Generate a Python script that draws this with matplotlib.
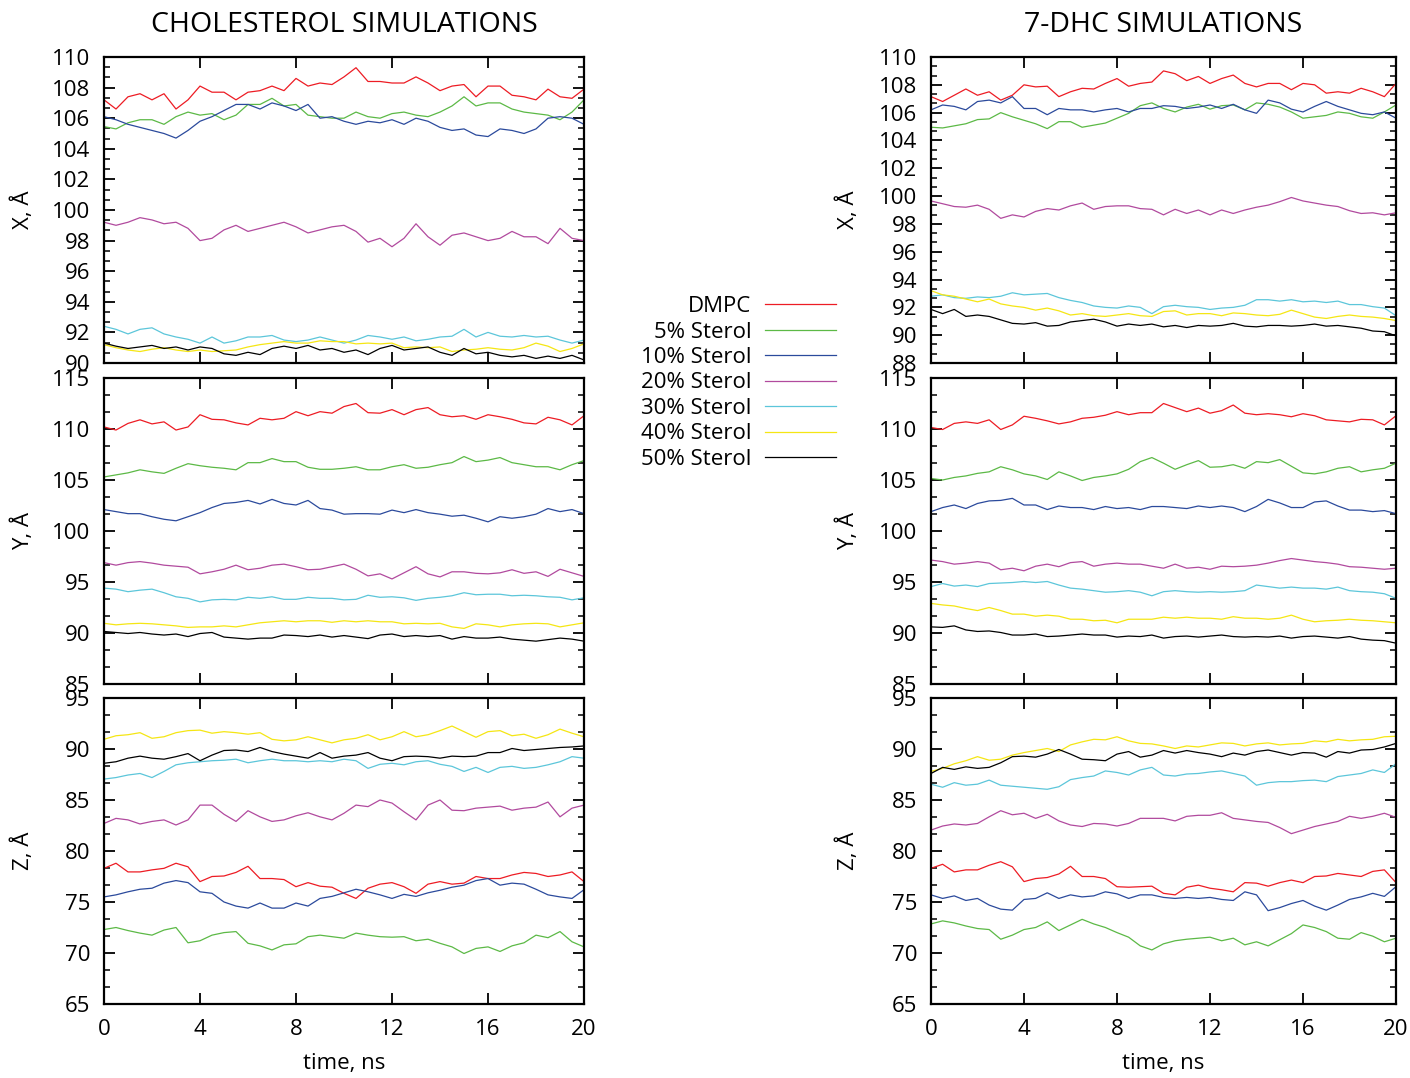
import numpy as np
import matplotlib.pyplot as plt
from matplotlib.ticker import MultipleLocator, AutoMinorLocator

plt.rcParams['font.family'] = ['Open Sans', 'DejaVu Sans']

labels = ['DMPC', '5% Sterol', '10% Sterol', '20% Sterol', '30% Sterol', '40% Sterol', '50% Sterol']
colors = ['#ed1c24', '#5cb946', '#2b4a9c', '#b14a9e', '#5cc6da', '#f5e614', '#000000']

# values read every 0.5 ns, 0..20 ns
# cholesterol, X
chol_x_dmpc = [107.2, 106.6, 107.4, 107.6, 107.2, 107.6, 106.6, 107.2, 108.1, 107.7, 107.7, 107.2, 107.7, 107.8, 108.1, 107.8, 108.6, 108.1, 108.3, 108.2, 108.7, 109.3, 108.4, 108.4, 108.3, 108.3, 108.7, 108.3, 107.8, 108.1, 108.2, 107.4, 108.1, 108.1, 107.5, 107.4, 107.2, 107.9, 107.4, 107.3, 107.9]
chol_x_s5 = [105.45, 105.3, 105.7, 105.9, 105.9, 105.6, 106.1, 106.4, 106.2, 106.3, 105.9, 106.2, 106.9, 106.9, 107.3, 106.8, 106.9, 106.2, 106.1, 106.0, 106.0, 106.4, 106.1, 106.0, 106.3, 106.4, 106.2, 106.1, 106.4, 106.8, 107.4, 106.8, 107.0, 107.0, 106.6, 106.4, 106.3, 106.2, 105.9, 106.4, 107.2]
chol_x_s10 = [106.1, 105.9, 105.6, 105.4, 105.2, 105.0, 104.7, 105.2, 105.8, 106.1, 106.5, 106.9, 106.9, 106.6, 107.0, 106.8, 106.5, 106.9, 106.0, 106.1, 105.8, 105.6, 105.8, 105.7, 105.9, 105.6, 106.0, 105.8, 105.4, 105.2, 105.3, 104.9, 104.8, 105.3, 105.2, 105.0, 105.3, 106.0, 106.1, 106.0, 105.6]
chol_x_s20 = [99.2, 99.0, 99.2, 99.5, 99.35, 99.1, 99.2, 98.8, 98.0, 98.15, 98.7, 99.0, 98.6, 98.8, 99.0, 99.2, 98.9, 98.5, 98.7, 98.9, 99.0, 98.6, 97.9, 98.15, 97.6, 98.15, 99.1, 98.25, 97.7, 98.35, 98.5, 98.25, 98.0, 98.15, 98.6, 98.25, 98.25, 97.8, 98.8, 98.15, 98.0]
chol_x_s30 = [92.4, 92.2, 91.9, 92.2, 92.3, 91.9, 91.7, 91.55, 91.3, 91.7, 91.3, 91.45, 91.7, 91.7, 91.8, 91.5, 91.4, 91.5, 91.7, 91.5, 91.3, 91.5, 91.8, 91.7, 91.55, 91.7, 91.45, 91.55, 91.7, 91.75, 92.2, 91.7, 92.0, 91.75, 91.7, 91.8, 91.7, 91.75, 91.5, 91.3, 91.5]
chol_x_s40 = [91.2, 91.0, 90.85, 90.75, 90.9, 91.0, 90.85, 90.75, 90.85, 90.75, 90.8, 90.85, 91.05, 91.2, 91.3, 91.4, 91.3, 91.3, 91.45, 91.4, 91.4, 91.25, 91.3, 91.25, 91.3, 91.0, 91.05, 91.0, 91.05, 90.75, 90.85, 90.9, 91.0, 90.9, 90.85, 91.0, 91.3, 91.1, 90.75, 90.95, 91.25]
chol_x_s50 = [91.3, 91.1, 90.95, 91.05, 91.15, 90.95, 91.05, 90.85, 91.05, 90.95, 90.6, 90.5, 90.7, 90.55, 90.95, 91.1, 90.95, 91.15, 90.85, 90.95, 90.7, 90.85, 90.55, 90.95, 91.15, 90.85, 90.95, 91.05, 90.7, 90.5, 90.95, 90.6, 90.7, 90.5, 90.4, 90.5, 90.3, 90.45, 90.3, 90.5, 90.2]

# cholesterol, Y
chol_y_dmpc = [110.2, 109.9, 110.55, 110.9, 110.5, 110.7, 109.9, 110.2, 111.4, 110.95, 110.9, 110.6, 110.4, 111.05, 110.9, 111.05, 111.7, 111.3, 111.7, 111.55, 112.2, 112.5, 111.6, 111.55, 111.9, 111.4, 111.9, 112.1, 111.4, 111.2, 111.3, 110.95, 111.4, 111.2, 110.95, 110.6, 110.5, 111.15, 110.9, 110.4, 111.3]
chol_y_s5 = [105.3, 105.5, 105.7, 106.0, 105.8, 105.65, 106.15, 106.6, 106.4, 106.25, 106.15, 106.0, 106.7, 106.7, 107.1, 106.8, 106.8, 106.25, 106.05, 106.05, 106.15, 106.3, 106.0, 106.0, 106.3, 106.5, 106.15, 106.25, 106.5, 106.7, 107.3, 106.8, 106.95, 107.2, 106.7, 106.5, 106.3, 106.3, 106.0, 106.5, 106.9]
chol_y_s10 = [102.1, 101.9, 101.7, 101.7, 101.4, 101.15, 101.0, 101.4, 101.8, 102.3, 102.7, 102.8, 103.0, 102.65, 103.1, 102.7, 102.55, 103.0, 102.2, 102.05, 101.65, 101.7, 101.7, 101.65, 102.05, 101.8, 102.1, 101.8, 101.65, 101.45, 101.55, 101.25, 100.9, 101.4, 101.25, 101.4, 101.65, 102.2, 101.9, 102.1, 101.7]
chol_y_s20 = [96.9, 96.65, 96.9, 97.0, 96.85, 96.65, 96.55, 96.45, 95.8, 96.0, 96.25, 96.65, 96.2, 96.35, 96.65, 96.75, 96.5, 96.2, 96.25, 96.5, 96.75, 96.25, 95.6, 95.8, 95.3, 95.9, 96.5, 95.8, 95.5, 96.0, 96.0, 95.85, 95.8, 95.9, 96.2, 95.85, 96.0, 95.55, 96.25, 95.9, 95.55]
chol_y_s30 = [94.4, 94.3, 94.05, 94.2, 94.3, 93.95, 93.55, 93.4, 93.05, 93.25, 93.3, 93.25, 93.5, 93.4, 93.55, 93.3, 93.3, 93.5, 93.4, 93.4, 93.25, 93.3, 93.7, 93.5, 93.55, 93.45, 93.2, 93.4, 93.5, 93.65, 93.95, 93.75, 93.8, 93.8, 93.65, 93.7, 93.65, 93.55, 93.5, 93.25, 93.45]
chol_y_s40 = [90.95, 90.8, 90.9, 90.95, 90.9, 90.8, 90.7, 90.55, 90.6, 90.6, 90.7, 90.6, 90.8, 91.0, 91.1, 91.2, 91.1, 91.2, 91.2, 91.05, 91.2, 91.1, 91.2, 91.1, 91.1, 90.9, 90.95, 90.9, 90.95, 90.6, 90.45, 90.9, 90.8, 90.6, 90.8, 90.9, 90.95, 90.9, 90.6, 90.8, 91.0]
chol_y_s50 = [90.15, 90.05, 89.95, 90.05, 89.9, 89.8, 89.9, 89.65, 89.95, 90.05, 89.6, 89.5, 89.4, 89.5, 89.5, 89.8, 89.75, 89.65, 89.8, 89.6, 89.75, 89.6, 89.45, 89.8, 89.9, 89.65, 89.75, 89.65, 89.75, 89.4, 89.65, 89.5, 89.5, 89.6, 89.4, 89.3, 89.2, 89.35, 89.5, 89.4, 89.2]

# cholesterol, Z
chol_z_dmpc = [78.3, 78.8, 77.95, 77.95, 78.15, 78.3, 78.8, 78.45, 77.0, 77.5, 77.55, 77.9, 78.5, 77.3, 77.3, 77.2, 76.5, 76.9, 76.55, 76.45, 75.85, 75.35, 76.35, 76.75, 76.9, 76.5, 75.85, 76.75, 77.0, 76.75, 76.85, 77.5, 77.3, 77.3, 77.65, 77.9, 77.8, 77.5, 77.65, 77.95, 77.0]
chol_z_s5 = [72.3, 72.5, 72.2, 71.95, 71.75, 72.25, 72.5, 71.0, 71.2, 71.75, 72.0, 72.1, 70.95, 70.7, 70.3, 70.8, 70.9, 71.6, 71.75, 71.6, 71.45, 71.95, 71.75, 71.6, 71.55, 71.6, 71.2, 71.35, 70.95, 70.6, 69.95, 70.45, 70.6, 70.15, 70.7, 71.0, 71.75, 71.5, 72.1, 71.1, 70.6]
chol_z_s10 = [75.5, 75.7, 76.0, 76.25, 76.35, 76.85, 77.1, 76.9, 76.0, 75.85, 75.0, 74.6, 74.4, 74.9, 74.4, 74.4, 74.9, 74.6, 75.35, 75.55, 75.9, 76.25, 76.0, 75.7, 75.35, 75.75, 75.55, 75.9, 76.15, 76.45, 76.65, 77.1, 77.3, 76.65, 76.85, 76.75, 76.25, 75.7, 75.5, 75.35, 76.2]
chol_z_s20 = [82.7, 83.2, 83.05, 82.65, 82.9, 83.05, 82.55, 83.05, 84.5, 84.5, 83.6, 82.9, 83.95, 83.35, 82.9, 83.05, 83.45, 83.75, 83.35, 83.05, 83.7, 84.5, 84.35, 85.0, 84.7, 83.85, 83.05, 84.5, 85.0, 84.0, 83.95, 84.2, 84.3, 84.4, 84.0, 84.2, 84.3, 84.8, 83.35, 84.2, 84.5]
chol_z_s30 = [87.05, 87.2, 87.45, 87.6, 87.2, 87.8, 88.45, 88.65, 88.75, 88.85, 88.9, 89.0, 88.65, 88.85, 89.0, 88.85, 88.85, 88.75, 88.85, 88.75, 89.0, 88.85, 88.1, 88.5, 88.6, 88.45, 88.75, 88.85, 88.5, 88.3, 87.8, 88.2, 87.7, 88.2, 88.3, 88.1, 88.2, 88.45, 88.75, 89.25, 89.1]
chol_z_s40 = [90.95, 91.3, 91.4, 91.6, 91.05, 91.2, 91.6, 91.8, 91.85, 91.55, 91.7, 91.6, 91.45, 91.6, 90.95, 90.8, 90.9, 91.2, 90.9, 90.6, 90.9, 91.05, 91.4, 90.9, 91.2, 91.7, 91.2, 91.4, 91.8, 92.25, 91.7, 91.15, 91.7, 91.8, 91.3, 91.45, 91.05, 91.4, 91.95, 91.55, 91.2]
chol_z_s50 = [88.6, 88.75, 89.1, 89.3, 89.1, 89.0, 89.25, 89.55, 88.85, 89.4, 89.85, 89.9, 89.75, 90.15, 89.75, 89.5, 89.3, 89.1, 89.65, 89.1, 89.3, 89.4, 89.65, 89.1, 88.85, 89.25, 89.3, 89.25, 89.1, 89.3, 89.25, 89.3, 89.65, 89.65, 90.05, 89.85, 89.95, 90.05, 90.15, 90.2, 90.3]

# 7-DHC, X
dhc_x_dmpc = [107.15, 106.8, 107.25, 107.7, 107.25, 107.5, 106.9, 107.25, 108.0, 107.85, 107.9, 107.15, 107.5, 107.75, 107.7, 108.1, 108.45, 107.9, 108.1, 108.2, 109.0, 108.8, 108.3, 108.6, 108.1, 108.45, 108.7, 108.1, 107.85, 108.1, 108.1, 107.65, 108.1, 108.0, 107.4, 107.5, 107.4, 107.75, 107.5, 107.15, 108.1]
dhc_x_s5 = [104.95, 104.9, 105.05, 105.2, 105.5, 105.55, 106.0, 105.7, 105.45, 105.2, 104.85, 105.35, 105.35, 104.95, 105.1, 105.25, 105.6, 105.95, 106.5, 106.7, 106.3, 106.05, 106.4, 106.6, 106.25, 106.5, 106.55, 106.2, 106.7, 106.6, 106.4, 106.05, 105.6, 105.7, 105.8, 106.05, 105.95, 105.7, 105.6, 106.05, 106.55]
dhc_x_s10 = [106.2, 106.55, 106.45, 106.2, 106.8, 106.9, 106.7, 107.15, 106.3, 106.3, 105.85, 106.3, 106.2, 106.2, 106.05, 106.2, 106.3, 106.05, 106.3, 106.3, 106.5, 106.45, 106.3, 106.4, 106.55, 106.3, 106.6, 106.2, 105.95, 106.9, 106.7, 106.25, 106.05, 106.45, 106.8, 106.45, 106.2, 105.95, 105.85, 106.05, 105.6]
dhc_x_s20 = [99.65, 99.45, 99.25, 99.2, 99.35, 99.05, 98.4, 98.65, 98.5, 98.9, 99.1, 99.0, 99.3, 99.5, 99.05, 99.25, 99.3, 99.3, 99.1, 99.05, 98.65, 99.05, 98.75, 99.0, 98.65, 99.0, 98.75, 99.0, 99.2, 99.35, 99.6, 99.9, 99.65, 99.5, 99.35, 99.25, 98.95, 98.75, 98.8, 98.65, 98.8]
dhc_x_s30 = [92.8, 92.9, 92.7, 92.65, 92.75, 92.7, 92.8, 93.05, 92.9, 92.95, 93.0, 92.7, 92.5, 92.35, 92.1, 92.0, 91.95, 92.1, 92.0, 91.55, 92.05, 92.15, 92.05, 92.0, 91.85, 91.95, 92.0, 92.15, 92.55, 92.55, 92.45, 92.55, 92.4, 92.45, 92.35, 92.45, 92.2, 92.2, 92.05, 91.95, 91.4]
dhc_x_s40 = [93.2, 92.9, 92.8, 92.6, 92.4, 92.6, 92.25, 92.1, 92.0, 91.8, 91.95, 91.75, 91.45, 91.55, 91.4, 91.35, 91.45, 91.55, 91.4, 91.35, 91.7, 91.75, 91.45, 91.55, 91.55, 91.4, 91.6, 91.55, 91.45, 91.4, 91.5, 91.8, 91.55, 91.3, 91.2, 91.35, 91.45, 91.35, 91.3, 91.2, 91.05]
dhc_x_s50 = [91.85, 91.55, 91.85, 91.35, 91.45, 91.35, 91.1, 90.85, 90.8, 90.9, 90.65, 90.7, 90.95, 91.05, 91.15, 90.95, 90.65, 90.8, 90.7, 90.8, 90.6, 90.7, 90.55, 90.7, 90.65, 90.7, 90.85, 90.65, 90.6, 90.7, 90.7, 90.65, 90.7, 90.8, 90.65, 90.7, 90.6, 90.5, 90.3, 90.25, 89.95]

# 7-DHC, Y
dhc_y_dmpc = [110.15, 109.95, 110.55, 110.7, 110.55, 110.9, 109.95, 110.4, 111.25, 111.05, 110.8, 110.5, 110.7, 111.05, 111.15, 111.35, 111.7, 111.4, 111.6, 111.6, 112.5, 112.1, 111.7, 112.05, 111.55, 111.8, 112.35, 111.55, 111.4, 111.5, 111.4, 111.2, 111.5, 111.3, 110.9, 110.8, 110.7, 110.95, 110.9, 110.4, 111.3]
dhc_y_s5 = [105.15, 105.0, 105.25, 105.4, 105.65, 105.8, 106.3, 106.0, 105.6, 105.4, 105.05, 105.8, 105.4, 104.95, 105.25, 105.4, 105.6, 106.05, 106.8, 107.2, 106.65, 106.05, 106.5, 106.9, 106.25, 106.3, 106.5, 106.15, 106.8, 106.7, 107.0, 106.35, 105.7, 105.6, 105.8, 106.15, 106.3, 105.8, 106.0, 106.15, 106.65]
dhc_y_s10 = [101.9, 102.3, 102.55, 102.2, 102.7, 102.95, 103.0, 103.2, 102.55, 102.55, 102.1, 102.45, 102.3, 102.3, 102.1, 102.4, 102.2, 102.3, 102.1, 102.4, 102.4, 102.3, 102.2, 102.45, 102.3, 102.45, 102.3, 101.9, 102.4, 103.1, 102.75, 102.3, 102.3, 102.85, 102.95, 102.45, 102.05, 102.05, 101.9, 102.0, 101.7]
dhc_y_s20 = [97.15, 97.0, 96.75, 96.85, 97.0, 96.85, 96.2, 96.35, 96.1, 96.55, 96.75, 96.5, 96.9, 97.0, 96.55, 96.75, 96.85, 96.75, 96.75, 96.55, 96.35, 96.75, 96.35, 96.45, 96.25, 96.55, 96.5, 96.55, 96.65, 96.85, 97.1, 97.3, 97.15, 97.0, 96.9, 96.75, 96.5, 96.45, 96.35, 96.25, 96.35]
dhc_y_s30 = [94.55, 94.85, 94.6, 94.7, 94.55, 94.85, 94.9, 94.95, 95.05, 94.95, 95.05, 94.7, 94.4, 94.3, 94.15, 94.0, 94.05, 94.15, 94.0, 93.65, 94.05, 94.15, 94.05, 94.0, 94.05, 94.0, 94.05, 94.15, 94.7, 94.55, 94.4, 94.5, 94.4, 94.4, 94.3, 94.5, 94.15, 94.05, 94.0, 93.85, 93.4]
dhc_y_s40 = [92.9, 92.75, 92.65, 92.4, 92.2, 92.5, 92.2, 91.85, 91.85, 91.65, 91.75, 91.65, 91.35, 91.35, 91.2, 91.25, 91.0, 91.35, 91.35, 91.35, 91.55, 91.45, 91.55, 91.45, 91.45, 91.35, 91.6, 91.45, 91.45, 91.35, 91.45, 91.75, 91.35, 91.1, 91.2, 91.25, 91.35, 91.25, 91.2, 91.1, 91.0]
dhc_y_s50 = [90.6, 90.55, 90.7, 90.3, 90.15, 90.2, 90.05, 89.8, 89.8, 89.9, 89.65, 89.7, 89.8, 89.9, 89.8, 89.8, 89.6, 89.7, 89.65, 89.8, 89.5, 89.65, 89.7, 89.6, 89.7, 89.8, 89.65, 89.6, 89.65, 89.6, 89.7, 89.5, 89.65, 89.7, 89.6, 89.5, 89.65, 89.4, 89.3, 89.25, 89.0]

# 7-DHC, Z
dhc_z_dmpc = [78.3, 78.7, 77.95, 78.15, 78.15, 78.6, 78.95, 78.45, 77.0, 77.3, 77.4, 77.75, 78.5, 77.5, 77.5, 77.3, 76.5, 76.45, 76.5, 76.55, 75.85, 75.7, 76.45, 76.65, 76.35, 76.2, 76.0, 76.9, 76.85, 76.55, 76.9, 77.15, 76.9, 77.5, 77.55, 77.8, 77.65, 77.5, 78.0, 78.15, 76.9]
dhc_z_s5 = [72.85, 73.15, 72.95, 72.65, 72.4, 72.3, 71.35, 71.75, 72.3, 72.5, 73.05, 72.2, 72.75, 73.3, 72.85, 72.5, 72.0, 71.55, 70.7, 70.3, 70.9, 71.2, 71.35, 71.45, 71.55, 71.2, 71.45, 70.8, 71.1, 70.7, 71.3, 71.9, 72.75, 72.5, 72.1, 71.45, 71.35, 72.0, 71.65, 71.1, 71.45]
dhc_z_s10 = [75.7, 75.35, 75.6, 75.15, 75.35, 74.7, 74.3, 74.2, 75.25, 75.35, 75.9, 75.35, 75.7, 75.5, 75.6, 76.0, 75.8, 75.35, 75.7, 75.7, 75.45, 75.35, 75.45, 75.35, 75.45, 75.25, 75.15, 76.0, 75.7, 74.15, 74.45, 74.85, 75.15, 74.6, 74.2, 74.7, 75.25, 75.5, 75.85, 75.55, 76.5]
dhc_z_s20 = [82.05, 82.45, 82.65, 82.55, 82.7, 83.35, 83.95, 83.55, 83.7, 83.2, 83.6, 82.95, 82.55, 82.4, 82.7, 82.65, 82.45, 82.7, 83.2, 83.2, 83.2, 82.95, 83.4, 83.5, 83.5, 83.75, 83.2, 83.05, 82.9, 82.8, 82.3, 81.7, 82.05, 82.4, 82.65, 82.9, 83.4, 83.2, 83.4, 83.7, 83.3]
dhc_z_s30 = [86.55, 86.25, 86.7, 86.45, 86.55, 86.95, 86.45, 86.35, 86.25, 86.15, 86.05, 86.3, 87.0, 87.2, 87.35, 87.85, 87.7, 87.45, 87.95, 88.2, 87.45, 87.35, 87.55, 87.6, 87.75, 87.85, 87.6, 87.35, 86.45, 86.7, 86.8, 86.8, 86.9, 86.95, 86.8, 87.3, 87.45, 87.6, 87.95, 87.7, 88.55]
dhc_z_s40 = [87.8, 88.1, 88.55, 88.85, 89.25, 88.9, 89.0, 89.4, 89.65, 89.85, 90.05, 89.75, 90.4, 90.7, 90.95, 90.9, 91.2, 90.8, 90.55, 90.5, 90.3, 90.05, 90.3, 90.2, 90.4, 90.6, 90.55, 90.3, 90.5, 90.6, 90.4, 90.5, 90.55, 90.8, 90.7, 90.95, 90.8, 90.9, 90.95, 91.2, 91.25]
dhc_z_s50 = [87.6, 88.2, 88.0, 88.25, 88.1, 88.2, 88.65, 89.25, 89.3, 89.2, 89.5, 89.95, 89.5, 89.0, 88.95, 88.85, 89.5, 89.75, 89.2, 89.4, 89.85, 89.6, 89.85, 89.65, 89.5, 89.25, 89.6, 89.4, 89.75, 89.9, 89.65, 89.4, 89.65, 89.6, 89.2, 89.75, 89.6, 89.9, 89.95, 90.2, 90.55]

chol_x = [chol_x_dmpc, chol_x_s5, chol_x_s10, chol_x_s20, chol_x_s30, chol_x_s40, chol_x_s50]
chol_y = [chol_y_dmpc, chol_y_s5, chol_y_s10, chol_y_s20, chol_y_s30, chol_y_s40, chol_y_s50]
chol_z = [chol_z_dmpc, chol_z_s5, chol_z_s10, chol_z_s20, chol_z_s30, chol_z_s40, chol_z_s50]
dhc_x = [dhc_x_dmpc, dhc_x_s5, dhc_x_s10, dhc_x_s20, dhc_x_s30, dhc_x_s40, dhc_x_s50]
dhc_y = [dhc_y_dmpc, dhc_y_s5, dhc_y_s10, dhc_y_s20, dhc_y_s30, dhc_y_s40, dhc_y_s50]
dhc_z = [dhc_z_dmpc, dhc_z_s5, dhc_z_s10, dhc_z_s20, dhc_z_s30, dhc_z_s40, dhc_z_s50]

W, H = 1410, 1078
fig = plt.figure(figsize=(W / 100, H / 100), dpi=100)

col_px = [(104, 584), (931, 1396)]
row_px = [(57, 363), (378, 684), (698, 1004)]

panels = [
    (0, 0, chol_x, (90, 110), 2, 'X, Å'),
    (0, 1, chol_y, (85, 115), 5, 'Y, Å'),
    (0, 2, chol_z, (65, 95), 5, 'Z, Å'),
    (1, 0, dhc_x, (88, 110), 2, 'X, Å'),
    (1, 1, dhc_y, (85, 115), 5, 'Y, Å'),
    (1, 2, dhc_z, (65, 95), 5, 'Z, Å'),
]

axes = []
for col, row, series, ylim, step, ylab in panels:
    x0, x1 = col_px[col]
    y0, y1 = row_px[row]
    ax = fig.add_axes([x0 / W, 1 - y1 / H, (x1 - x0) / W, (y1 - y0) / H])
    for vals, c, lab in zip(series, colors, labels):
        t = np.linspace(0, 20, len(vals))
        ax.plot(t, vals, color=c, lw=0.9, label=lab)
    ax.set_xlim(0, 20)
    ax.set_ylim(*ylim)
    ax.xaxis.set_major_locator(MultipleLocator(4))
    ax.yaxis.set_major_locator(MultipleLocator(step))
    ax.yaxis.set_minor_locator(AutoMinorLocator(3))
    ax.tick_params(which='both', direction='in', top=True, right=True, labelsize=16)
    ax.tick_params(which='major', length=8, width=1.3)
    ax.tick_params(which='minor', length=4, width=1.1)
    ax.tick_params(axis='y', pad=10)
    ax.tick_params(axis='x', pad=11)
    for s in ax.spines.values():
        s.set_linewidth(1.6)
    if row != 2:
        ax.tick_params(labelbottom=False)
    ax.set_ylabel(ylab, fontsize=16)
    ax.yaxis.set_label_coords(-0.145 if col == 0 else -0.155, 0.5)
    axes.append(ax)

# column titles and x labels
fig.text(344 / W, 1 - 25 / H, 'CHOLESTEROL SIMULATIONS', ha='center', va='center', fontsize=20.5)
fig.text(1163 / W, 1 - 25 / H, '7-DHC SIMULATIONS', ha='center', va='center', fontsize=20.5)
fig.text(344 / W, 1 - 1064 / H, 'time, ns', ha='center', va='center', fontsize=16)
fig.text(1163 / W, 1 - 1064 / H, 'time, ns', ha='center', va='center', fontsize=16)

handles, labs = axes[0].get_legend_handles_labels()
fig.legend(handles, labs, loc='center right', bbox_to_anchor=(836 / W, 1 - 383 / H),
           markerfirst=False, frameon=False, fontsize=16, handlelength=3.2,
           handletextpad=0.6, labelspacing=0.2, borderpad=0, borderaxespad=0)

fig.savefig('out.png', dpi=100)
